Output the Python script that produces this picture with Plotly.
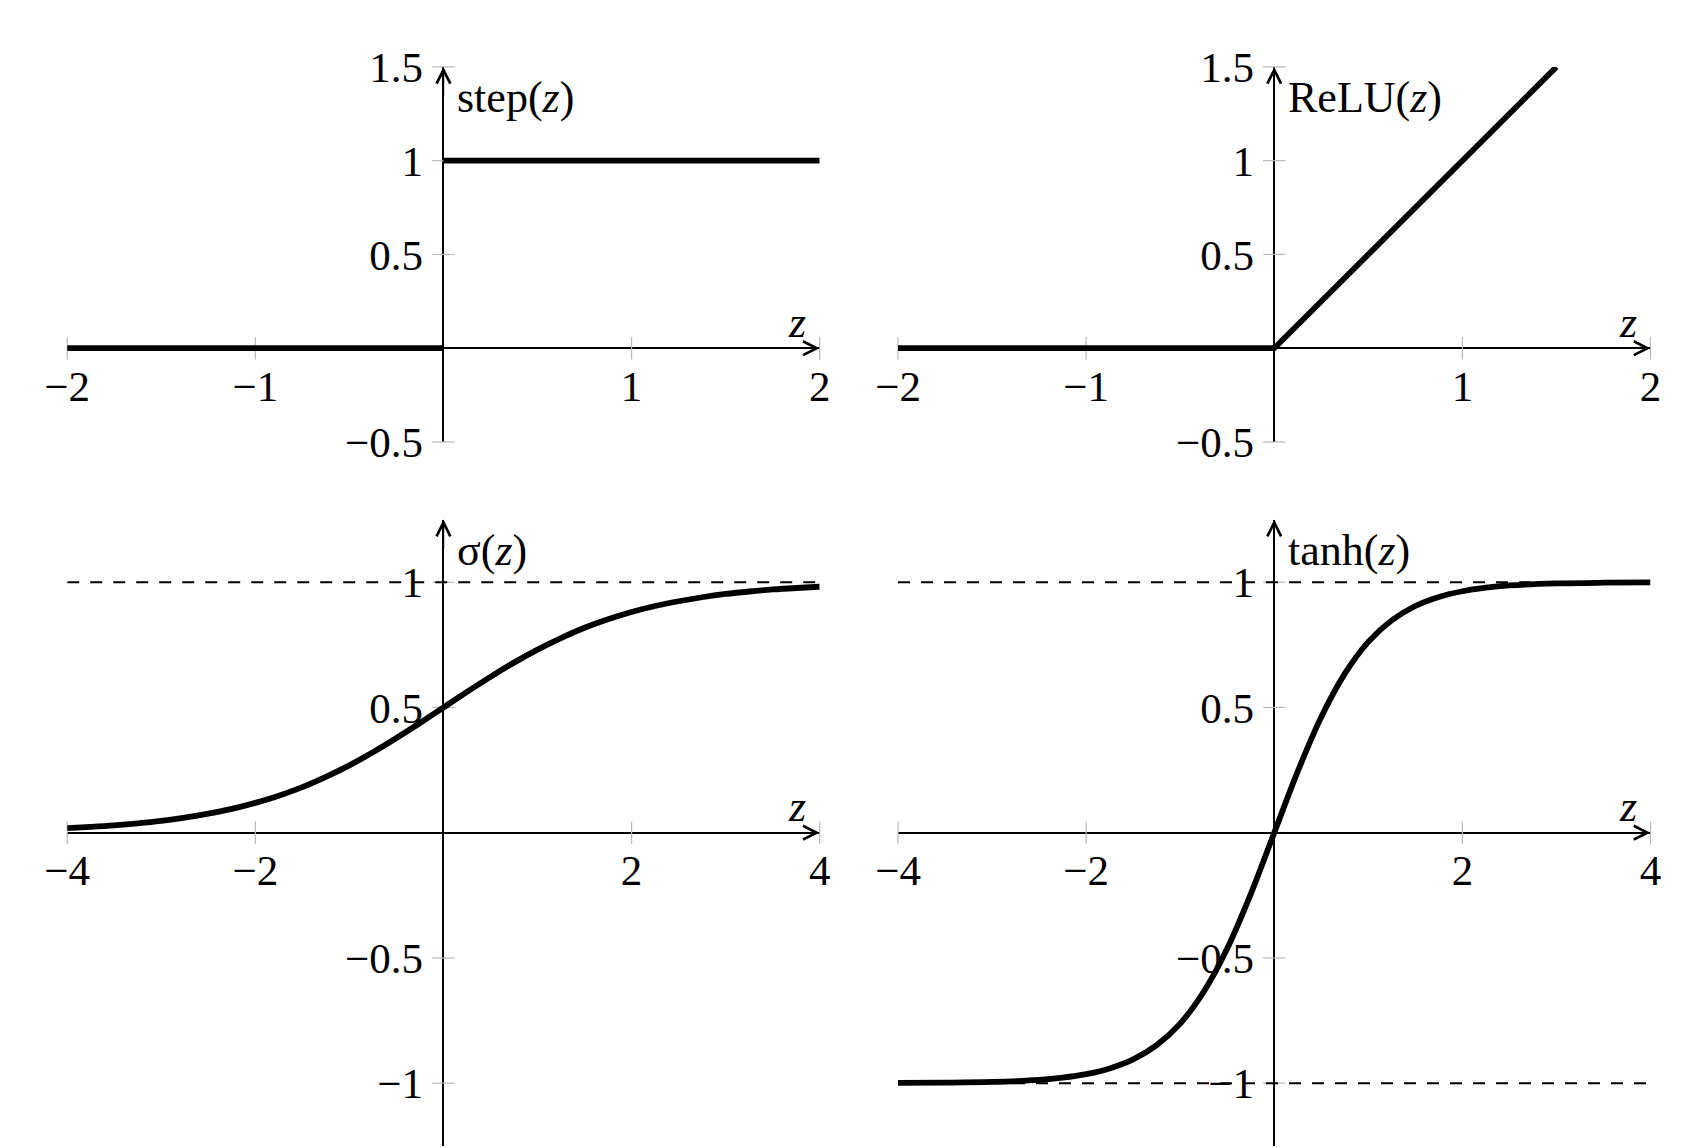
import plotly.graph_objects as go

W, H = 1700, 1148
PAGE_OFFSET = 8  # default body margin of the html page

# ---------------- data ----------------
step_neg_x = [-2, 0]
step_neg_y = [0, 0]
step_pos_x = [0, 2]
step_pos_y = [1, 1]

relu_x = [-2, 0, 1.5]
relu_y = [0, 0, 1.5]

sig_x = [-4, -3.75, -3.5, -3.25, -3, -2.75, -2.5, -2.25, -2, -1.75, -1.5, -1.25, -1,
         -0.75, -0.5, -0.25, 0, 0.25, 0.5, 0.75, 1, 1.25, 1.5, 1.75, 2, 2.25, 2.5,
         2.75, 3, 3.25, 3.5, 3.75, 4]
sig_y = [0.018, 0.023, 0.029, 0.037, 0.047, 0.060, 0.076, 0.095, 0.119, 0.148,
         0.182, 0.223, 0.269, 0.321, 0.378, 0.438, 0.5, 0.562, 0.622, 0.679,
         0.731, 0.777, 0.818, 0.852, 0.881, 0.905, 0.924, 0.940, 0.953, 0.963,
         0.971, 0.977, 0.982]

tanh_x = [-4, -3.5, -3, -2.5, -2.25, -2, -1.75, -1.5, -1.25, -1, -0.75, -0.5, -0.25, 0,
          0.25, 0.5, 0.75, 1, 1.25, 1.5, 1.75, 2, 2.25, 2.5, 3, 3.5, 4]
tanh_y = [-0.999, -0.998, -0.995, -0.987, -0.978, -0.964, -0.941, -0.905, -0.848,
          -0.762, -0.635, -0.462, -0.245, 0, 0.245, 0.462, 0.635, 0.762, 0.848,
          0.905, 0.941, 0.964, 0.978, 0.987, 0.995, 0.998, 0.999]

asym_x = [-4, 4]
upper_asym_y = [1, 1]
lower_asym_y = [-1, -1]

top_xticks = [-2, -1, 1, 2]
top_xlabels = ["−2", "−1", "1", "2"]
top_yticks = [-0.5, 0.5, 1, 1.5]
top_ylabels = ["−0.5", "0.5", "1", "1.5"]
bot_xticks = [-4, -2, 2, 4]
bot_xlabels = ["−4", "−2", "2", "4"]
bot_yticks = [-1, -0.5, 0.5, 1]
bot_ylabels = ["−1", "−0.5", "0.5", "1"]

titles = ["step(<i>z</i>)", "ReLU(<i>z</i>)", "σ(<i>z</i>)", "tanh(<i>z</i>)"]

# ---------------- layout geometry (pixels, as seen on screen) ----------------
left_px = (67.2, 819.7)
right_px = (898.0, 1650.5)
top_px = (66.9, 442.0)
bot_px = (519.6, 1145.8)

panels = [
    dict(xpx=left_px, ypx=top_px, xr=(-2, 2), yr=(-0.5, 1.5),
         xt=top_xticks, xl=top_xlabels, yt=top_yticks, yl=top_ylabels),
    dict(xpx=right_px, ypx=top_px, xr=(-2, 2), yr=(-0.5, 1.5),
         xt=top_xticks, xl=top_xlabels, yt=top_yticks, yl=top_ylabels),
    dict(xpx=left_px, ypx=bot_px, xr=(-4, 4), yr=(-1.25, 1.25),
         xt=bot_xticks, xl=bot_xlabels, yt=bot_yticks, yl=bot_ylabels),
    dict(xpx=right_px, ypx=bot_px, xr=(-4, 4), yr=(-1.25, 1.25),
         xt=bot_xticks, xl=bot_xlabels, yt=bot_yticks, yl=bot_ylabels),
]

FONT = "Liberation Serif, DejaVu Serif, serif"
TICKCOL = "#b8b8b8"
CURVE_W = 5.8
TICK_FS = 43
LABEL_FS = 44

fig = go.Figure()
layout = dict(width=W, height=H,
              margin=dict(l=0, r=0, t=0, b=0, pad=0, autoexpand=False),
              autosize=False,
              paper_bgcolor="white", plot_bgcolor="white", showlegend=False,
              font=dict(family=FONT, color="black", size=TICK_FS))
annotations = []

for i, p in enumerate(panels, start=1):
    xd = [(p["xpx"][0] - PAGE_OFFSET) / W, (p["xpx"][1] - PAGE_OFFSET) / W]
    yd = [1 - (p["ypx"][1] - PAGE_OFFSET) / H, 1 - (p["ypx"][0] - PAGE_OFFSET) / H]
    x0, x1 = p["xr"]
    y0, y1 = p["yr"]
    xpos = yd[0] + (0 - y0) / (y1 - y0) * (yd[1] - yd[0])   # paper y of data y=0
    ypos = xd[0] + (0 - x0) / (x1 - x0) * (xd[1] - xd[0])   # paper x of data x=0
    sfx = "" if i == 1 else str(i)
    layout["xaxis" + sfx] = dict(
        domain=xd, range=[x0, x1], anchor="free", position=xpos,
        showline=True, linecolor="black", linewidth=1.5, showgrid=False,
        zeroline=False, tickmode="array", tickvals=p["xt"], ticktext=p["xl"],
        ticks="", ticklabelstandoff=0, tickfont=dict(family=FONT, size=TICK_FS),
        layer="below traces", fixedrange=True, automargin=False)
    layout["yaxis" + sfx] = dict(
        domain=yd, range=[y0, y1], anchor="free", position=ypos,
        showline=True, linecolor="black", linewidth=1.5, showgrid=False,
        zeroline=False, tickmode="array", tickvals=p["yt"], ticktext=p["yl"],
        ticks="", ticklabelstandoff=11, tickfont=dict(family=FONT, size=TICK_FS),
        layer="below traces", fixedrange=True, automargin=False)
    xa, ya = "x" + sfx, "y" + sfx

    # tick marks crossing the axes
    fig.add_trace(go.Scatter(x=p["xt"], y=[0] * len(p["xt"]), mode="markers",
                             xaxis=xa, yaxis=ya, hoverinfo="skip", cliponaxis=False,
                             marker=dict(symbol="line-ns", size=16, color=TICKCOL,
                                         line=dict(width=1.2, color=TICKCOL))))
    fig.add_trace(go.Scatter(x=[0] * len(p["yt"]), y=p["yt"], mode="markers",
                             xaxis=xa, yaxis=ya, hoverinfo="skip", cliponaxis=False,
                             marker=dict(symbol="line-ew", size=16, color=TICKCOL,
                                         line=dict(width=1.2, color=TICKCOL))))

    # arrows
    annotations.append(dict(xref=xa, yref=ya, x=x1, y=0, ax=-30, ay=0, text="",
                            showarrow=True, arrowhead=5, arrowsize=1.8,
                            arrowwidth=1.5, arrowcolor="black", standoff=0))
    annotations.append(dict(xref=xa, yref=ya, x=0, y=y1, ax=0, ay=30, text="",
                            showarrow=True, arrowhead=5, arrowsize=1.8,
                            arrowwidth=1.5, arrowcolor="black", standoff=0))
    # axis labels
    annotations.append(dict(xref=xa, yref=ya, x=x1, y=0, text="<i>z</i>",
                            showarrow=False, xanchor="center", yanchor="middle",
                            xshift=-23, yshift=26, font=dict(family=FONT, size=LABEL_FS)))
    annotations.append(dict(xref=xa, yref=ya, x=0, y=y1, text=titles[i - 1],
                            showarrow=False, xanchor="left", yanchor="middle",
                            xshift=12, yshift=-31, font=dict(family=FONT, size=LABEL_FS)))

line = dict(color="black", width=CURVE_W)
dash = dict(color="black", width=2, dash="12px,11px")

fig.add_trace(go.Scatter(x=step_neg_x, y=step_neg_y, mode="lines", line=line,
                         xaxis="x", yaxis="y"))
fig.add_trace(go.Scatter(x=step_pos_x, y=step_pos_y, mode="lines", line=line,
                         xaxis="x", yaxis="y"))
fig.add_trace(go.Scatter(x=relu_x, y=relu_y, mode="lines", line=line,
                         xaxis="x2", yaxis="y2"))
fig.add_trace(go.Scatter(x=asym_x, y=upper_asym_y, mode="lines", line=dash,
                         xaxis="x3", yaxis="y3"))
fig.add_trace(go.Scatter(x=sig_x, y=sig_y, mode="lines", line=line,
                         line_shape="spline", xaxis="x3", yaxis="y3"))
fig.add_trace(go.Scatter(x=asym_x, y=upper_asym_y, mode="lines", line=dash,
                         xaxis="x4", yaxis="y4"))
fig.add_trace(go.Scatter(x=asym_x, y=lower_asym_y, mode="lines", line=dash,
                         xaxis="x4", yaxis="y4"))
fig.add_trace(go.Scatter(x=tanh_x, y=tanh_y, mode="lines", line=line,
                         line_shape="spline", xaxis="x4", yaxis="y4"))

layout["annotations"] = annotations
fig.update_layout(**layout)
fig.write_html("out.html")
